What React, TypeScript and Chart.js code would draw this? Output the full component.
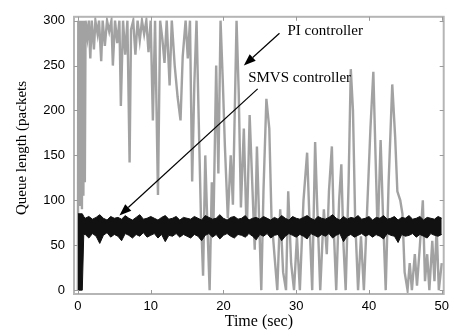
import React, { useEffect, useRef } from "react";
import { Chart, registerables } from "chart.js";

Chart.register(...registerables);

const xTicks = [0, 10, 20, 30, 40, 50];
const yTicks = [0, 50, 100, 150, 200, 250, 300];

// PI controller queue trace (time in s, queue in packets)
const piTime = [
  0, 0.05, 0.15, 0.25, 0.35, 0.45, 0.55, 0.65, 0.75, 0.85, 0.95, 1.05,
  1.3, 1.5, 1.7, 1.9, 2.2, 2.4, 2.7, 2.9, 3.2, 3.4, 3.7, 4.0, 4.3, 4.6, 4.8, 5.1, 5.4, 5.7, 5.9, 6.2, 6.5, 6.8,
  7.1, 7.3, 7.6, 7.9, 8.2, 8.5, 8.8, 9.1, 9.4, 9.7, 10.0, 10.3, 10.6, 11.0, 11.3, 11.6, 11.9, 12.2, 12.6, 12.9,
  13.3, 13.7, 14.1, 14.4, 14.8, 15.1, 15.4, 15.7, 16.0, 16.3, 16.6, 16.9, 17.2, 17.5, 17.8, 18.1, 18.4, 18.6,
  19.0, 19.3, 19.6, 19.9, 20.2, 20.6, 21.0, 21.3, 21.8, 22.1, 22.4, 22.8, 23.2, 23.6, 24.0, 24.3, 24.6, 24.9,
  25.2, 25.5, 25.9, 26.3, 26.6, 27.0, 27.4, 27.8, 28.2, 28.6, 28.9, 29.3, 29.7, 30.1, 30.5, 31.0, 31.5, 31.9,
  32.2, 32.6, 32.9, 33.3, 33.8, 34.2, 34.5, 34.9, 35.2, 35.5, 35.9, 36.2, 36.5, 36.8, 37.2, 37.5, 37.8, 38.1,
  38.5, 38.9, 39.3, 39.7, 40.2, 40.6, 40.9, 41.2, 41.6, 41.9, 42.3, 42.7, 43.2, 43.6, 43.9, 44.3, 44.6, 44.9,
  45.3, 45.6, 45.9, 46.3, 46.6, 47.0, 47.4, 47.7, 48.0, 48.3, 48.7, 49.0, 49.3, 49.6, 50.0,
];
const piQueue = [
  0, 300, 95, 300, 100, 300, 90, 300, 105, 300, 120, 300,
  282, 300, 258, 300, 268, 300, 285, 300, 255, 300, 272, 300, 288, 300, 250, 300, 275, 300, 205, 300, 262, 300,
  142, 290, 300, 262, 300, 278, 300, 285, 300, 265, 300, 189, 300, 106, 300, 280, 253, 300, 228, 300,
  250, 215, 189, 260, 300, 258, 300, 121, 230, 300, 190, 84, 16, 150, 70, 0, 120, 60,
  250, 130, 300, 235, 160, 80, 150, 95, 300, 220, 92, 180, 60, 195, 110, 45, 160, 80,
  0, 110, 213, 180, 82, 40, 0, 90, 20, 0, 110, 30, 0, 60, 0, 100, 153, 60,
  0, 165, 90, 0, 90, 40, 110, 160, 60, 0, 100, 140, 50, 0, 120, 246, 200, 80,
  0, 60, 0, 80, 180, 243, 150, 60, 167, 90, 0, 120, 229, 170, 110, 100, 85, 20,
  0, 30, 0, 40, 5, 50, 100, 10, 40, 0, 55, 10, 70, 0, 30,
];

// SMVS controller: upper and lower envelope of the dense band
const smvsTime = [0, 0.6, 0.8, ...Array.from({ length: 99 }, (_, i) => 1 + i * 0.5)];
const smvsUpper = [
  85, 85, 82,
  80, 82, 79, 81, 84, 80, 78, 82, 80,
  81, 79, 83, 80, 78, 81, 84, 79, 80, 82,
  80, 78, 81, 83, 79, 80, 82, 78, 81, 80,
  79, 82, 80, 78, 83, 81, 79, 80, 84, 80,
  78, 81, 82, 79, 80, 83, 78, 80, 81, 79,
  82, 80, 78, 81, 79, 83, 80, 78, 82, 80,
  79, 81, 83, 80, 78, 82, 80, 79, 81, 84,
  80, 78, 82, 79, 81, 80, 83, 79, 80, 82,
  78, 81, 80, 83, 79, 80, 82, 78, 81, 80,
  83, 79, 80, 82, 78, 81, 80, 79, 82, 80,
];
const smvsLower = [
  0, 0, 62,
  62, 58, 63, 60, 52, 61, 64, 59, 62,
  60, 55, 63, 61, 58, 62, 60, 64, 59, 61,
  63, 58, 62, 54, 61, 60, 63, 59, 62, 60,
  58, 62, 60, 55, 61, 63, 59, 62, 57, 61,
  63, 60, 58, 62, 61, 59, 63, 60, 56, 62,
  60, 63, 58, 61, 62, 55, 60, 63, 61, 59,
  62, 60, 57, 63, 61, 59, 62, 60, 63, 58,
  61, 63, 54, 60, 62, 59, 61, 63, 60, 62,
  59, 62, 60, 57, 63, 61, 60, 53, 62, 60,
  61, 63, 59, 62, 60, 58, 63, 61, 60, 62,
];

// annotations (data coordinates)
const labelTexts = ["PI controller", "SMVS controller"];
const labelX = [28.8, 23.4];
const labelY = [288, 236];
const arrowFromX = [27.7, 24.7];
const arrowFromY = [286, 224];
const arrowToX = [22.8, 5.7];
const arrowToY = [250, 83];

const xTitle = "Time (sec)";
const yTitle = "Queue length (packets";

const pts = (xs: number[], ys: number[]) => xs.map((x, i) => ({ x, y: ys[i] }));

const softPlugin = {
  id: "soft",
  beforeDatasetDraw(chart: any, args: any) {
    chart.ctx.save();
    chart.ctx.filter = args.index === 2 ? "blur(0.7px)" : "blur(0.4px)";
  },
  afterDatasetDraw(chart: any) {
    chart.ctx.restore();
  },
};

const decorPlugin = {
  id: "decor",
  afterDatasetsDraw(chart: any) {
    const { ctx, chartArea: a, scales } = chart;
    const xs = scales.x;
    const ys = scales.y;
    ctx.save();
    ctx.filter = "none";
    // frame
    ctx.strokeStyle = "#b5b5b5";
    ctx.lineWidth = 2;
    ctx.strokeRect(a.left, a.top, a.right - a.left, a.bottom - a.top);
    // inward tick marks
    ctx.strokeStyle = "#9a9a9a";
    ctx.lineWidth = 1;
    ctx.beginPath();
    xTicks.forEach((v) => {
      const px = Math.round(xs.getPixelForValue(v)) + 0.5;
      ctx.moveTo(px, a.top);
      ctx.lineTo(px, a.top + 4);
      ctx.moveTo(px, a.bottom);
      ctx.lineTo(px, a.bottom - 4);
    });
    yTicks.forEach((v) => {
      const py = Math.round(ys.getPixelForValue(v)) + 0.5;
      ctx.moveTo(a.right, py);
      ctx.lineTo(a.right - 4, py);
      ctx.moveTo(a.left, py);
      ctx.lineTo(a.left + 4, py);
    });
    ctx.stroke();

    // arrows
    ctx.strokeStyle = "#000";
    ctx.fillStyle = "#000";
    ctx.lineWidth = 1.2;
    arrowFromX.forEach((fx, i) => {
      const x1 = xs.getPixelForValue(fx);
      const y1 = ys.getPixelForValue(arrowFromY[i]);
      const x2 = xs.getPixelForValue(arrowToX[i]);
      const y2 = ys.getPixelForValue(arrowToY[i]);
      const ang = Math.atan2(y2 - y1, x2 - x1);
      const L = 12;
      const W = 4.5;
      const bx = x2 - L * Math.cos(ang);
      const by = y2 - L * Math.sin(ang);
      ctx.beginPath();
      ctx.moveTo(x1, y1);
      ctx.lineTo(bx, by);
      ctx.stroke();
      ctx.beginPath();
      ctx.moveTo(x2, y2);
      ctx.lineTo(bx + W * Math.sin(ang), by - W * Math.cos(ang));
      ctx.lineTo(bx - W * Math.sin(ang), by + W * Math.cos(ang));
      ctx.closePath();
      ctx.fill();
    });

    // labels
    ctx.font = "15px 'Liberation Serif', 'DejaVu Serif', serif";
    ctx.textAlign = "left";
    ctx.textBaseline = "middle";
    labelTexts.forEach((t, i) => {
      ctx.fillText(t, xs.getPixelForValue(labelX[i]), ys.getPixelForValue(labelY[i]));
    });

    // axis titles
    ctx.font = "16px 'Liberation Serif', serif";
    ctx.textAlign = "center";
    ctx.textBaseline = "middle";
    ctx.fillText(xTitle, (a.left + a.right) / 2, 322);
    ctx.save();
    ctx.translate(22, 148);
    ctx.rotate(-Math.PI / 2);
    ctx.font = "15px 'Liberation Serif', serif";
    ctx.fillText(yTitle, 0, 0);
    ctx.restore();
    ctx.restore();
  },
};

export default function App() {
  const ref = useRef<HTMLCanvasElement | null>(null);
  useEffect(() => {
    if (!ref.current) return;
    const tickFont = { family: "'Liberation Sans', Arial, sans-serif", size: 13 };
    const chart = new Chart(ref.current, {
      type: "line",
      data: {
        datasets: [
          {
            label: "SMVS upper",
            data: pts(smvsTime, smvsUpper),
            borderColor: "#111",
            borderWidth: 1,
            pointRadius: 0,
            fill: false,
            order: 0,
          },
          {
            label: "SMVS controller",
            data: pts(smvsTime, smvsLower),
            borderColor: "#111",
            backgroundColor: "#111",
            borderWidth: 1,
            pointRadius: 0,
            fill: "-1",
            order: 0,
          },
          {
            label: "PI controller",
            data: pts(piTime, piQueue),
            borderColor: "rgba(70,70,70,0.5)",
            borderWidth: 2.4,
            pointRadius: 0,
            fill: false,
            order: 1,
          },
        ],
      },
      options: {
        animation: false,
        responsive: false,
        events: [],
        layout: { padding: { top: 8, right: 6, left: 0, bottom: 0 } },
        plugins: { legend: { display: false }, tooltip: { enabled: false }, title: { display: false } },
        scales: {
          x: {
            type: "linear",
            min: -0.54,
            max: 50.27,
            grid: { display: false, drawTicks: false },
            border: { display: false },
            afterBuildTicks: (s: any) => {
              s.ticks = xTicks.map((v) => ({ value: v }));
            },
            afterFit: (s: any) => {
              s.height = 42;
            },
            ticks: { font: tickFont, color: "#000", padding: 5, maxRotation: 0, autoSkip: false },
          },
          y: {
            type: "linear",
            min: -4.3,
            max: 304.3,
            grid: { display: false, drawTicks: false },
            border: { display: false },
            afterBuildTicks: (s: any) => {
              s.ticks = yTicks.map((v) => ({ value: v }));
            },
            afterFit: (s: any) => {
              s.width = 74;
            },
            ticks: { font: tickFont, color: "#000", padding: 9, autoSkip: false },
          },
        },
      },
      plugins: [softPlugin, decorPlugin],
    });
    return () => chart.destroy();
  }, []);
  return (
    <div style={{ position: "fixed", left: 0, top: 0, width: 454, height: 336, background: "#fff" }}>
      <canvas ref={ref} width={454} height={336} />
    </div>
  );
}
